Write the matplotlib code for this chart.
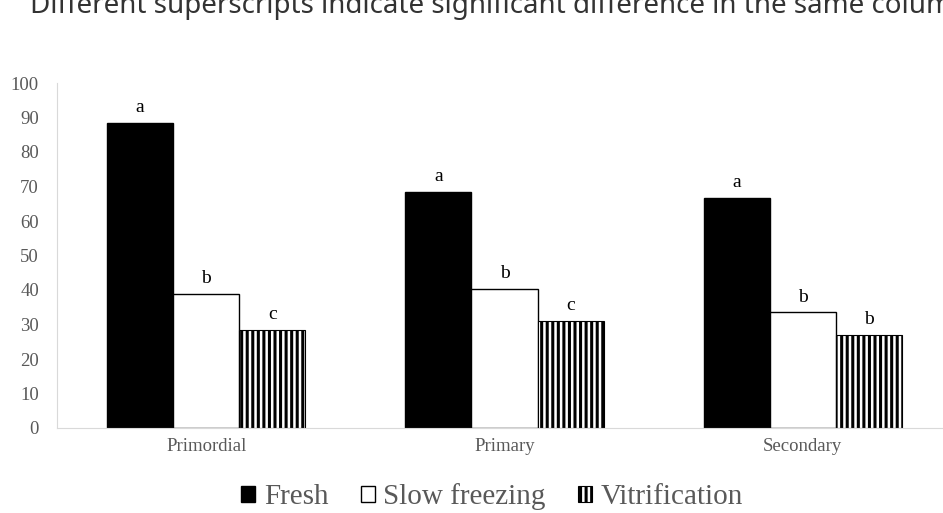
import numpy as np
import matplotlib.pyplot as plt

plt.rcParams['font.family'] = ['Liberation Serif', 'DejaVu Serif']
plt.rcParams['hatch.linewidth'] = 2.2

# Data
stages = ['Primordial', 'Primary', 'Secondary']
series = ['Fresh', 'Slow freezing', 'Vitrification']
fresh = [88.5, 68.5, 66.7]
slow = [38.8, 40.3, 33.5]
vitri = [28.3, 31.0, 27.0]
fresh_sig = ['a', 'a', 'a']
slow_sig = ['b', 'b', 'b']
vitri_sig = ['c', 'c', 'b']

fig = plt.figure(figsize=(9.43, 5.13), dpi=100)
ax = fig.add_axes([57 / 943, 1 - 428 / 513, 1 - 57 / 943, 345 / 513])

x = np.arange(len(stages))
w = 0.2215
styles = [
    dict(color='black', edgecolor='black'),
    dict(color='white', edgecolor='black', linewidth=1.0),
    dict(color='white', edgecolor='black', hatch='|||', linewidth=0.8),
]
values = [fresh, slow, vitri]
sigs = [fresh_sig, slow_sig, vitri_sig]

for i, (vals, lab, st, sg) in enumerate(zip(values, series, styles, sigs)):
    pos = x + (i - 1) * w
    ax.bar(pos, vals, width=w, label=lab, **st)
    for px, v, s in zip(pos, vals, sg):
        ax.text(px, v + 2.0, s, ha='center', va='bottom', fontsize=14, color='black')

ax.set_ylim(0, 100)
ax.set_xlim(-0.5, 2.47)
ax.set_yticks(range(0, 101, 10))
ax.set_xticks(x)
ax.set_xticklabels(stages, fontsize=13.5, color='#595959')
ax.tick_params(axis='y', labelsize=13.5, labelcolor='#595959', length=0, pad=13)
ax.tick_params(axis='x', length=0, pad=7)
for side in ['top', 'right']:
    ax.spines[side].set_visible(False)
for side in ['left', 'bottom']:
    ax.spines[side].set_color('#d9d9d9')

leg = ax.legend(loc='center', bbox_to_anchor=(0.491, -0.2), ncol=3, frameon=False,
                fontsize=21, handlelength=0.48, handleheight=0.5, handletextpad=0.3,
                columnspacing=1.1)
for t in leg.get_texts():
    t.set_color('#595959')

fig.text(30 / 943, 1 - 13 / 513, 'Different superscripts indicate significant difference in the same column',
         fontsize=20, color='#333333', family=['Noto Sans', 'DejaVu Sans'], va='baseline')

fig.savefig('out.png', dpi=100)
